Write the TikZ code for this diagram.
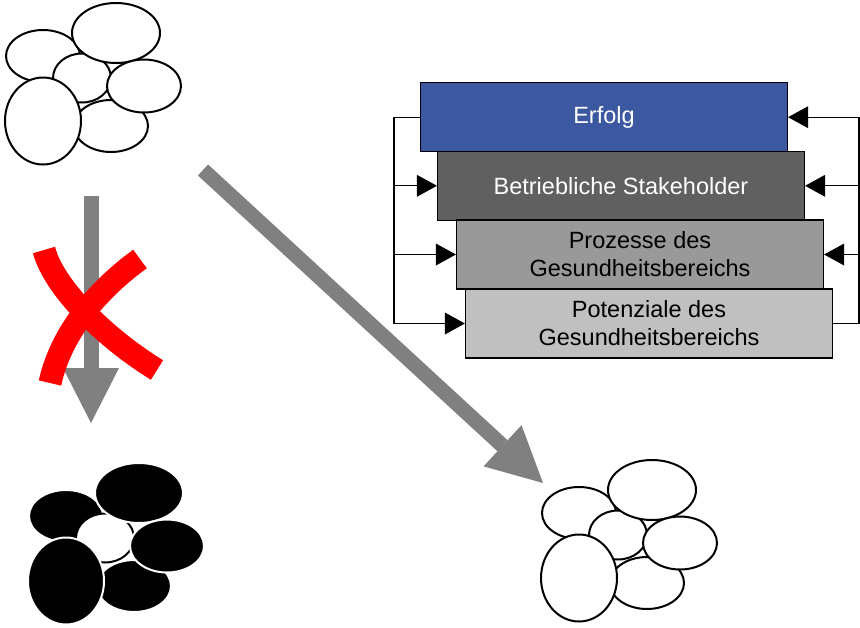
\documentclass[tikz,border=0pt]{standalone}
\usepackage{fontspec}
\setmainfont{Liberation Sans}
\usetikzlibrary{arrows.meta}

\definecolor{erfolgblue}{RGB}{60,88,160}
\definecolor{stakegray}{RGB}{96,96,96}
\definecolor{prozgray}{RGB}{153,153,153}
\definecolor{potgray}{RGB}{192,192,192}
\definecolor{flowgray}{RGB}{128,128,128}
\definecolor{crossred}{RGB}{255,0,0}

\tikzset{
  level/.style={draw=black, line width=1.5pt, minimum width=366.7pt,
    minimum height=69pt, inner sep=0pt, align=center,
    font=\fontsize{23.5}{28}\selectfont},
  feedback/.style={draw=black, line width=1.3pt},
  fbtip/.style={-{Triangle[length=20pt 0 0,width=22pt 0 0,line width=0pt]}},
  bigflow/.style={draw=flowgray, line width=15pt, line cap=butt,
    -{Triangle[length=55pt 0 0,width=56pt 0 0,line width=0pt]}},
  cross/.style={draw=crossred, line width=23pt, line cap=butt},
  cell/.style={line width=2pt},
  % a bunch of six overlapping cells: outer fill/edge, inner fill/edge
  pics/cluster/.style n args={4}{code={
    \path[cell, fill=#1, draw=#2] (43,56)   ellipse [x radius=37pt, y radius=26pt];
    \path[cell, fill=#3, draw=#4] (82,78)   ellipse [x radius=29pt, y radius=24.5pt];
    \path[cell, fill=#1, draw=#2] (116,33)  ellipse [x radius=44pt, y radius=30pt];
    \path[cell, fill=#1, draw=#2] (111,126) ellipse [x radius=37pt, y radius=26pt];
    \path[cell, fill=#1, draw=#2] (144,86)  ellipse [x radius=37pt, y radius=26.5pt];
    \path[cell, fill=#1, draw=#2] (43,121)  ellipse [x radius=38pt, y radius=43.5pt];
  }}
}

\begin{document}
\begin{tikzpicture}[x=1pt, y=-1pt]
  \useasboundingbox (0,0) rectangle (860,627);

  % cell clusters
  \pic at (0,0)     {cluster={white}{black}{white}{black}};
  \pic at (23,460)  {cluster={black}{white}{white}{black}};
  \pic at (536,457) {cluster={white}{black}{white}{black}};

  % straight-down path (rejected)
  \coordinate (vstart) at (91,196);
  \coordinate (vend)   at (91,423);
  \draw[bigflow] (vstart) -- (vend);

  % crossing-out mark
  \coordinate (xa1) at (44,250);
  \coordinate (xa2) at (157,370);
  \coordinate (xb1) at (140,259);
  \coordinate (xb2) at (50,383);
  \draw[cross] (xa1) .. controls (54,288) and (105,338) .. (xa2);
  \draw[cross] (xb1) .. controls (104,285) and (62,328) .. (xb2);

  % diagonal path
  \coordinate (dstart) at (203,170);
  \coordinate (dend)   at (543,483);
  \draw[bigflow] (dstart) -- (dend);

  % stacked levels
  \node[level, fill=erfolgblue, text=white] (erfolg) at (604,117.2) {Erfolg};
  \node[level, fill=stakegray, text=white]  (betr)   at (621,185.8) {Betriebliche Stakeholder};
  \node[level, fill=prozgray]               (proz)   at (640,254.5) {Prozesse des\\Gesundheitsbereichs};
  \node[level, fill=potgray]                (potenz) at (649,323.5) {Potenziale des\\Gesundheitsbereichs};

  % feedback buses
  \coordinate (lbus) at (394,0);
  \coordinate (rbus) at (859,0);

  \draw[feedback] (erfolg.west) -- (erfolg.west -| lbus) -- (potenz.west -| lbus);
  \draw[feedback, fbtip] (betr.west -| lbus)   -- (betr.west);
  \draw[feedback, fbtip] (proz.west -| lbus)   -- (proz.west);
  \draw[feedback, fbtip] (potenz.west -| lbus) -- (potenz.west);

  \draw[feedback] (potenz.east) -- (potenz.east -| rbus) -- (erfolg.east -| rbus);
  \draw[feedback, fbtip] (erfolg.east -| rbus) -- (erfolg.east);
  \draw[feedback, fbtip] (betr.east -| rbus)   -- (betr.east);
  \draw[feedback, fbtip] (proz.east -| rbus)   -- (proz.east);
\end{tikzpicture}
\end{document}
